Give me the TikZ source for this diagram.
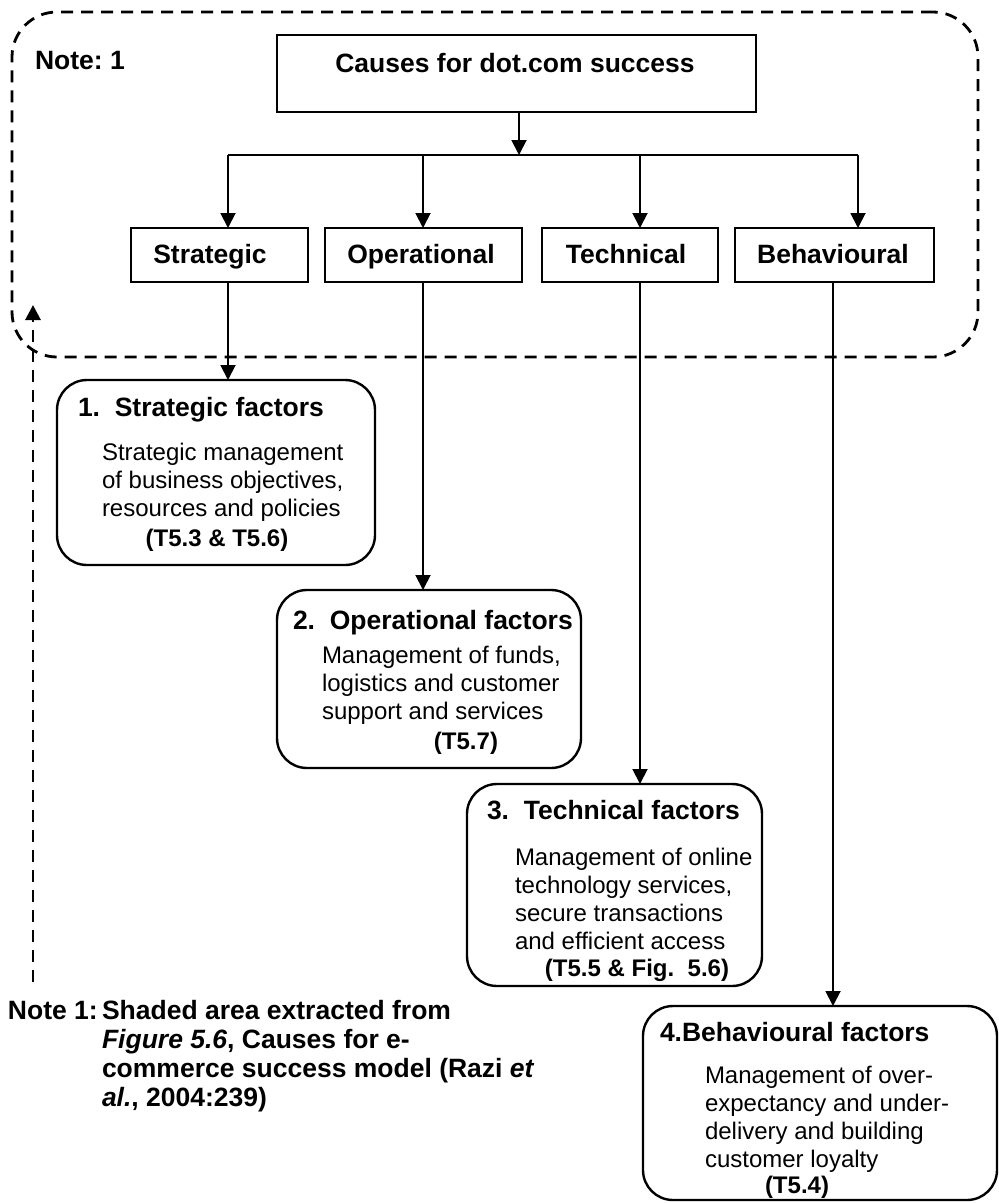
\documentclass[tikz,border=0pt]{standalone}
\usepackage{fontspec}
\setmainfont{Liberation Sans}
\usetikzlibrary{arrows.meta}

\begin{document}
\frenchspacing
\begin{tikzpicture}[x=1pt, y=-1pt,
  every node/.style={inner sep=0pt, outer sep=0pt},
  ttl/.style={font=\fontsize{26.5}{29}\selectfont\bfseries},
  body/.style={font=\fontsize{24}{28}\selectfont, align=left, anchor=base west},
  ref/.style={font=\fontsize{24}{28}\selectfont\bfseries, anchor=base},
  sqbox/.style={draw, line width=2.8pt, anchor=north west},
  factor/.style={draw, line width=2.4pt, rounded corners=30pt, anchor=north west},
  region/.style={draw, line width=2.8pt, dash pattern=on 12pt off 8pt,
                 rounded corners=45pt, anchor=north west},
  link/.style={line width=1.9pt},
  conn/.style={line width=1.9pt, -{Triangle[length=15pt,width=15pt]}},
]
\useasboundingbox (0,0) rectangle (999,1203);

% extracted area (dashed outline)
\node[region, minimum width=966pt, minimum height=345pt] (shaded) at (12,12) {};
\node[ttl, anchor=base west] (notehead) at (35,69) {Note: 1};

% top box
\node[sqbox, minimum width=479pt, minimum height=77pt] (top) at (277,35) {};
\node[ttl, anchor=base] (toptxt) at (515,72) {Causes for dot.com success};

% the four categories
\node[sqbox, minimum width=177pt, minimum height=54pt] (strat) at (131,228) {};
\node[sqbox, minimum width=197pt, minimum height=54pt] (oper)  at (325,228) {};
\node[sqbox, minimum width=176pt, minimum height=54pt] (tech)  at (542,228) {};
\node[sqbox, minimum width=199pt, minimum height=54pt] (beh)   at (735,228) {};
\node[ttl, anchor=base] (strattxt) at (210,263) {Strategic};
\node[ttl, anchor=base] (opertxt)  at (421,263) {Operational};
\node[ttl, anchor=base] (techtxt)  at (626,263) {Technical};
\node[ttl, anchor=base] (behtxt)   at (833,263) {Behavioural};

% factor boxes (multi-line texts are placed by the baseline of their last line)
\node[factor, minimum width=318pt, minimum height=185pt] (f1) at (57,380) {};
\node[ttl, anchor=base west] (f1t) at (78,416) {1.\ \ Strategic factors};
\node[body] (f1b) at (102,516) {Strategic management\\of business objectives,\\resources and policies};
\node[ref] (f1r) at (217,546) {(T5.3 \& T5.6)};

\node[factor, minimum width=304pt, minimum height=178pt] (f2) at (277,590) {};
\node[ttl, anchor=base west] (f2t) at (293,629) {2.\ \ Operational factors};
\node[body] (f2b) at (322,719) {Management of funds,\\logistics and customer\\support and services};
\node[ref] (f2r) at (466,749) {(T5.7)};

\node[factor, minimum width=295pt, minimum height=202pt] (f3) at (467,784) {};
\node[ttl, anchor=base west] (f3t) at (487,819) {3.\ \ Technical factors};
\node[body] (f3b) at (515,949) {Management of online\\technology services,\\secure transactions\\and efficient access};
\node[ref] (f3r) at (637,976) {(T5.5 \& Fig.\ \ 5.6)};

\node[factor, minimum width=354pt, minimum height=194pt] (f4) at (643,1006) {};
\node[ttl, anchor=base west] (f4t) at (660,1041) {4.Behavioural factors};
\node[body] (f4b) at (705,1167) {Management of over-\\expectancy and under-\\delivery and building\\customer loyalty};
\node[ref] (f4r) at (797,1193) {(T5.4)};

% note at the foot
\node[ttl, anchor=base west] (note1) at (8,1019) {Note 1:};
\node[ttl, anchor=base west, align=left, font=\fontsize{26.5}{29}\selectfont\bfseries]
  (note1txt) at (102,1106) {Shaded area extracted from\\\textit{Figure 5.6}, Causes for e-\\commerce success model (Razi \textit{et}\\\textit{al.}, 2004:239)};

% connectors
\coordinate (bus) at (519,155);
\coordinate (c1) at (228,155);
\coordinate (c2) at (423,155);
\coordinate (c3) at (640,155);
\coordinate (c4) at (858,155);
\coordinate (d4) at (833,155);
\draw[conn] (bus |- top.south) -- (bus);
\draw[link] (c1) -- (c4);
\draw[conn] (c1) -- (c1 |- strat.north);
\draw[conn] (c2) -- (c2 |- oper.north);
\draw[conn] (c3) -- (c3 |- tech.north);
\draw[conn] (c4) -- (c4 |- beh.north);

\draw[conn] (c1 |- strat.south) -- (c1 |- f1.north);
\draw[conn] (c2 |- oper.south) -- (c2 |- f2.north);
\draw[conn] (c3 |- tech.south) -- (c3 |- f3.north);
\draw[conn] (d4 |- beh.south) -- (d4 |- f4.north);

% dashed pointer from the note up to the extracted area
\coordinate (notefoot) at (33,982);
\coordinate (notetip) at (33,305);
\draw[line width=2.8pt, dash pattern=on 12pt off 8pt,
      -{Triangle[length=15pt,width=15pt]}] (notefoot) -- (notetip);
\end{tikzpicture}
\end{document}
